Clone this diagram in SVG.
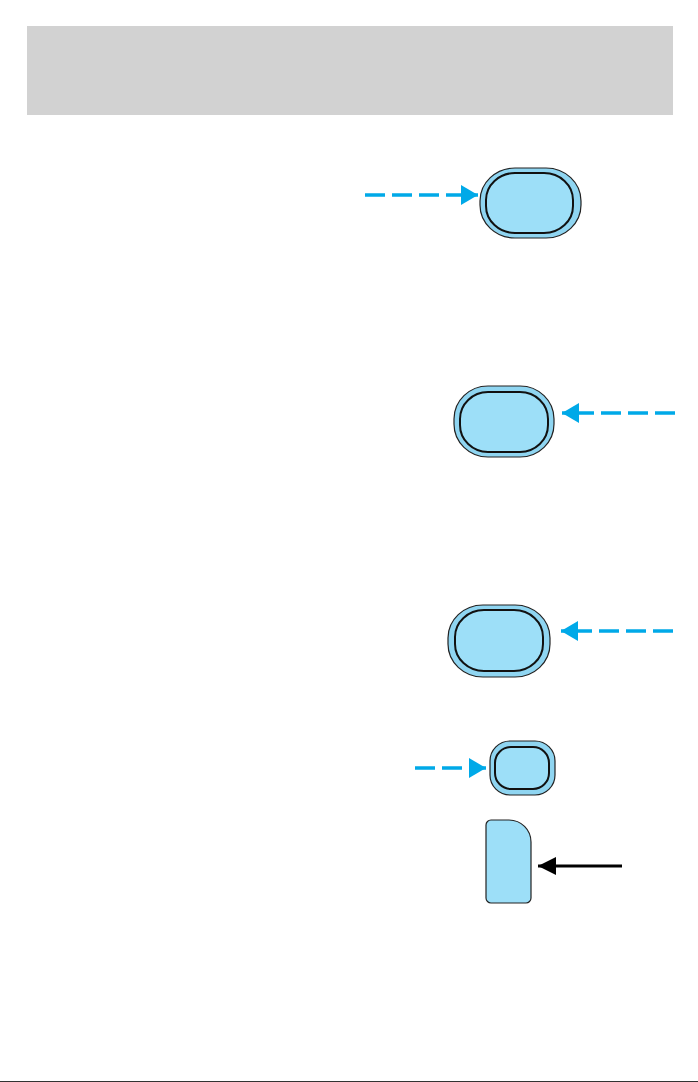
<svg xmlns="http://www.w3.org/2000/svg" width="698" height="1082" viewBox="0 0 698 1082">
<style>
.outer{fill:#8fd5f1;stroke:#222;stroke-width:1.2}
.inner{fill:#9ddff8;stroke:#111;stroke-width:2}
.dash{stroke:#00a9e8;stroke-width:3.5;stroke-dasharray:20 7;fill:none}
.solid{stroke:#000;stroke-width:3;fill:none}
</style>
<defs>
<marker id="ab" markerUnits="userSpaceOnUse" markerWidth="18" markerHeight="20" refX="17" refY="10" orient="auto">
<path d="M0,0 L17,10 L0,20 Z" fill="#00a9e8"/>
</marker>
<marker id="ak" markerUnits="userSpaceOnUse" markerWidth="18" markerHeight="18" refX="18" refY="9" orient="auto">
<path d="M0,0 L18,9 L0,18 Z" fill="#000"/>
</marker>
</defs>
<rect x="27" y="26" width="646" height="89" fill="#d2d2d2"/>
<g id="button1">
<rect class="outer" x="480" y="168" width="101" height="70" rx="35" ry="33"/>
<rect class="inner" x="486" y="173" width="87" height="60" rx="29" ry="27"/>
</g>
<g id="button2">
<rect class="outer" x="454" y="386" width="100" height="71" rx="34" ry="33"/>
<rect class="inner" x="460" y="392" width="88" height="60" rx="28" ry="27"/>
</g>
<g id="button3">
<rect class="outer" x="448" y="605" width="102" height="72" rx="35" ry="33"/>
<rect class="inner" x="455" y="610" width="88" height="61" rx="29" ry="27"/>
</g>
<g id="button4">
<rect class="outer" x="490" y="741" width="65" height="54" rx="20" ry="20"/>
<rect class="inner" x="495" y="747" width="54" height="42" rx="16" ry="16"/>
</g>
<g id="tab">
<path d="M491,820 L509,820 A22,22 0 0 1 531,842 L531,898 A5,5 0 0 1 526,903 L491,903 A5,5 0 0 1 486,898 L486,825 A5,5 0 0 1 491,820 Z" fill="#9ddff8" stroke="#222" stroke-width="1.2"/>
</g>
<g id="connectors">
<line class="dash" x1="365" y1="195" x2="478" y2="195" marker-end="url(#ab)"/>
<line class="dash" x1="675" y1="413" x2="562" y2="413" marker-end="url(#ab)"/>
<line class="dash" x1="673" y1="631" x2="561" y2="631" marker-end="url(#ab)"/>
<line class="dash" x1="415" y1="768" x2="486" y2="768" marker-end="url(#ab)"/>
<line class="solid" x1="622" y1="866" x2="538" y2="866" marker-end="url(#ak)"/>
</g>
<line x1="0" y1="1081.5" x2="698" y2="1081.5" stroke="#333" stroke-width="1"/>
</svg>
